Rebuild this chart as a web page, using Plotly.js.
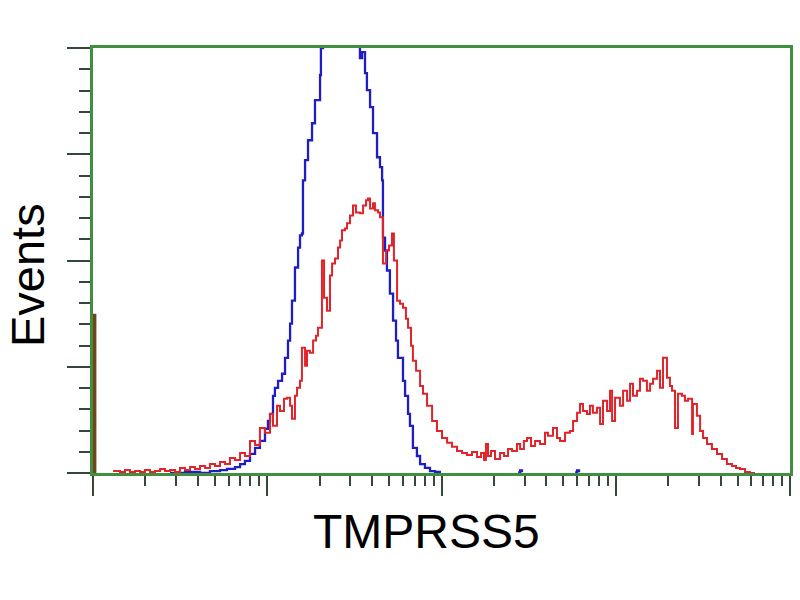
<!DOCTYPE html>
<html>
<head>
<meta charset="utf-8">
<script src="https://cdn.plot.ly/plotly-3.0.1.min.js"></script>
<style>html,body{margin:0;padding:0;background:#fff;}#chart{width:800px;height:600px;}</style>
</head>
<body>
<div id="chart"></div>
<script>
// log10 of fluorescence intensity (x) and event counts (y)
const redLogFL = [0.115,0.155,0.184,0.212,0.241,0.270,0.298,0.327,0.356,0.385,0.413,0.442,0.471,0.499,0.528,0.557,0.585,0.614,0.643,0.671,0.700,0.729,0.758,0.786,0.815,0.844,0.872,0.901,0.930,0.958,0.987,1.016,1.033,1.056,1.073,1.096,1.113,1.131,1.142,1.159,1.171,1.188,1.199,1.217,1.228,1.245,1.263,1.280,1.291,1.314,1.326,1.343,1.360,1.372,1.389,1.406,1.418,1.429,1.446,1.458,1.475,1.492,1.509,1.532,1.550,1.567,1.578,1.590,1.607,1.618,1.636,1.647,1.664,1.682,1.699,1.716,1.727,1.745,1.762,1.779,1.796,1.808,1.825,1.836,1.854,1.877,1.894,1.917,1.946,1.974,2.003,2.032,2.060,2.089,2.118,2.146,2.175,2.204,2.227,2.244,2.255,2.267,2.284,2.307,2.336,2.359,2.382,2.405,2.433,2.451,2.473,2.491,2.514,2.537,2.565,2.594,2.611,2.640,2.663,2.680,2.709,2.737,2.755,2.778,2.795,2.812,2.835,2.852,2.869,2.892,2.910,2.927,2.950,2.967,2.979,2.996,3.007,3.024,3.042,3.065,3.082,3.099,3.122,3.139,3.156,3.179,3.197,3.214,3.237,3.254,3.271,3.294,3.311,3.323,3.340,3.357,3.380,3.397,3.415,3.438,3.443,3.466,3.484,3.501,3.524,3.552,3.581,3.610,3.638,3.667,3.690,3.713,3.742,3.770,3.799];
const redCounts = [1,0.5,1.4,0.5,1,0.5,1.4,0.5,1,1.9,1,1.4,0.5,2.4,1.4,2.8,1.9,3.3,2.4,4.2,3.3,5.2,4.2,7.1,6.1,9.4,8.0,15.1,13.2,21.2,18.9,27.8,22.2,31.6,29.2,34.9,35.4,31.6,25.5,36.3,40.1,43.4,59.0,50.5,57.5,56.6,62.3,64.6,68.4,100,82.5,76.4,92.9,98.6,100.9,106.1,109.4,114.2,115.1,117.5,121.2,125.9,122.6,122.2,125.9,128.3,129.2,124.5,126.9,123.6,122.6,120.3,98.6,104.7,107.1,112.7,100,81.1,79.7,77.8,72.6,68.4,59.9,52.8,48.1,41.0,37.3,31.6,24.5,19.8,16.5,14.2,12.3,10.4,9.4,8.5,9.9,7.5,9.4,6.1,13.7,8.0,10.4,6.6,9.4,8.0,11.3,10.4,13.7,11.3,15.1,16.5,12.7,15.1,13.7,18.9,17.5,21.2,16.5,15.1,18.9,19.8,24.5,28.3,32.5,29.2,27.8,31.6,28.3,30.7,23.1,34.0,29.2,38.7,24.5,35.4,35.4,31.6,38.7,34.0,42.0,36.3,38.7,44.3,43.4,38.7,42.0,44.3,48.1,40.1,54.2,44.8,41.0,38.7,21.2,37.3,36.3,34.0,34.9,18.4,32.5,26.9,19.8,16.5,13.7,11.3,9.0,6.6,4.2,3.3,2.4,1.9,0.5,0,0];

const blueLogFL = [0.442,0.528,0.614,0.671,0.729,0.769,0.815,0.844,0.872,0.901,0.930,0.958,0.987,1.004,1.016,1.033,1.044,1.062,1.085,1.102,1.119,1.131,1.142,1.159,1.177,1.188,1.199,1.205,1.217,1.234,1.257,1.274,1.303,1.308,1.320,1.360,1.418,1.475,1.503,1.521,1.532,1.544,1.561,1.572,1.590,1.607,1.630,1.647,1.659,1.664,1.676,1.687,1.704,1.722,1.739,1.750,1.779,1.791,1.808,1.819,1.836,1.859,1.877,1.905,1.934,1.963,1.991,null,2.440,2.451,2.462,null,2.767,2.778,2.789];
const blueCounts = [0,0.5,0,0.9,1.4,1.9,2.8,4.2,5.7,9.0,11.8,15.1,20.8,24.5,27.8,36.3,40.1,43.4,46.7,54.2,62.3,70.3,81.1,96.7,106.1,111.8,112.7,137.7,147.2,156.6,164.6,175.5,187.3,200,213,230,245,240,225,205,195.3,198.1,188.2,180.2,172.2,159.9,148.6,143.9,137.7,110.8,104.7,95.3,84.4,71.7,62.3,54.2,43.4,36.3,27.8,22.2,11.8,8.0,4.2,2.4,0.9,0.5,0,null,0.3,1.2,0.3,null,0.3,1.2,0.3];

// first channel (off-scale low events)
const firstBinLogFL = [0.008, 0.008];
const firstBinCounts = [0, 75];

const minorTickVals = [2,3,4,5,6,7,8,9,20,30,40,50,60,70,80,90,200,300,400,500,600,700,800,900,2000,3000,4000,5000,6000,7000,8000,9000];

const xAxisTitle = 'TMPRSS5';
const yAxisTitle = 'Events';

const toLin = a => a.map(v => v === null ? null : Math.pow(10, v));

const traces = [
  {x: toLin(blueLogFL), y: blueCounts, type: 'scatter', mode: 'lines',
   line: {color: '#1e1ec4', width: 2.3, shape: 'hv'}, connectgaps: false, hoverinfo: 'skip'},
  {x: toLin(redLogFL), y: redCounts, type: 'scatter', mode: 'lines',
   line: {color: '#e0242a', width: 2, shape: 'hv'}, hoverinfo: 'skip'},
  {x: toLin(firstBinLogFL), y: firstBinCounts, type: 'scatter', mode: 'lines',
   line: {color: '#6e4619', width: 4}, hoverinfo: 'skip'}
];

const green = '#3f8f3f';
const tickCol = '#34483a';

const layout = {
  width: 800, height: 600,
  margin: {l: 93, r: 10, t: 48, b: 127},
  paper_bgcolor: '#ffffff', plot_bgcolor: '#ffffff',
  showlegend: false,
  font: {family: 'Liberation Sans, Arial, sans-serif', color: '#000'},
  xaxis: {
    type: 'log', range: [0, 4], dtick: 1,
    showgrid: false, zeroline: false, showticklabels: false,
    showline: true, linecolor: green, linewidth: 3, mirror: true,
    ticks: 'outside', ticklen: 20, tickwidth: 2, tickcolor: tickCol,
    minor: {tickmode: 'array', tickvals: minorTickVals, ticks: 'outside', ticklen: 10, tickwidth: 2, tickcolor: tickCol, showgrid: false},
    layer: 'below traces', fixedrange: true
  },
  yaxis: {
    range: [0, 200], dtick: 50, tick0: 0,
    showgrid: false, zeroline: false, showticklabels: false,
    showline: true, linecolor: green, linewidth: 3, mirror: true,
    ticks: 'outside', ticklen: 23, tickwidth: 2, tickcolor: tickCol,
    minor: {dtick: 10, ticks: 'outside', ticklen: 11, tickwidth: 2, tickcolor: tickCol, showgrid: false},
    layer: 'below traces', fixedrange: true
  },
  annotations: [
    {text: xAxisTitle, xref: 'paper', yref: 'paper', x: 0.478, y: -0.137,
     xanchor: 'center', yanchor: 'middle', showarrow: false,
     font: {size: 48, family: 'Liberation Sans, Arial, sans-serif', color: '#000'}},
    {text: yAxisTitle, xref: 'paper', yref: 'paper', x: -0.094, y: 0.467,
     xanchor: 'center', yanchor: 'middle', showarrow: false, textangle: -90,
     font: {size: 47, family: 'Liberation Sans, Arial, sans-serif', color: '#000'}}
  ]
};

Plotly.newPlot('chart', traces, layout, {staticPlot: true, displayModeBar: false});
</script>
</body>
</html>
